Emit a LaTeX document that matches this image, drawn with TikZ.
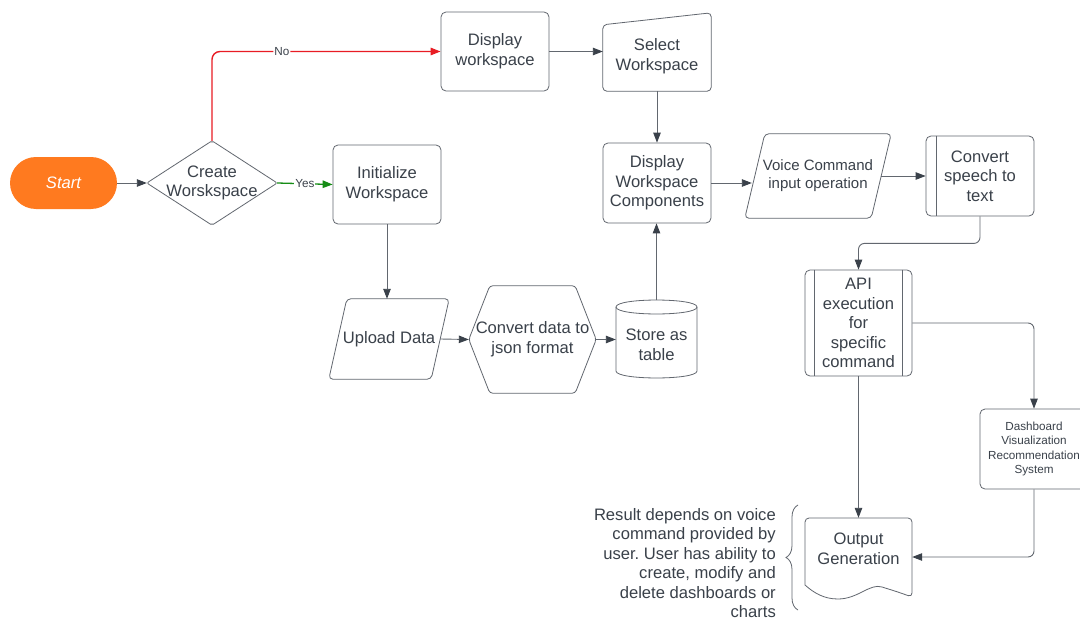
\documentclass[tikz,border=0pt]{standalone}
\usepackage{fontspec}
\setmainfont{Liberation Sans}
\usetikzlibrary{arrows.meta,calc,decorations.pathreplacing}
\definecolor{txt}{RGB}{58,65,74}
\definecolor{ln}{RGB}{98,103,111}
\definecolor{org}{RGB}{255,122,31}
\definecolor{rd}{RGB}{232,28,36}
\definecolor{gr}{RGB}{22,140,22}
\frenchspacing
\begin{document}
\begin{tikzpicture}[x=1pt,y=-1pt,
  every node/.style={text=txt, align=center, inner sep=0pt, font=\fontsize{16.6}{19.6}\selectfont},
  fmid/.style={font=\fontsize{15}{18}\selectfont},
  fsmall/.style={font=\fontsize{11.7}{14.5}\selectfont},
  area/.style={minimum width=#1},
  box/.style={draw=ln, line width=0.8pt, rounded corners=5pt, minimum width=108pt, minimum height=79pt},
  shp/.style={draw=ln, line width=0.8pt, rounded corners=4pt},
  arr/.style={draw=ln, line width=0.9pt, -{Triangle[length=10pt,width=7.5pt,color=txt]}},
  startbox/.style={fill=org, rounded corners=26pt, minimum width=107pt, minimum height=52pt, text=white, font=\fontsize{16.6}{19.6}\selectfont\itshape}
]
\fill[white] (0,0) rectangle (1080,621);
\useasboundingbox (0,0) rectangle (1080,621);

% nodes
\node[startbox] (start) at (63.5,183) {Start};
\node[area=130pt, minimum height=84pt] (dec) at (212,183) {Create\\Worskspace};
\draw[shp, rounded corners=2pt] (dec.north) -- (dec.east) -- (dec.south) -- (dec.west) -- cycle;

\node[box] (init) at (387,184.5) {Initialize\\Workspace};
\node[box] (disp) at (495,51.5) {Display\\workspace};

\node[area=108pt, minimum height=70pt] (sel) at (657,56) {Select\\Workspace};
\draw[shp] (sel.south west) -- ($(sel.north west)+(0,4)$) -- ($(sel.north east)+(0,-8)$) -- (sel.south east) -- cycle;

\node[box, minimum height=80pt] (comp) at (657,183) {Display\\Workspace\\Components};

\node[area=146pt, minimum height=84pt, fmid] (voice) at (818,176) {Voice Command\\input operation};
\draw[shp] (voice.south west) -- ($(voice.north west)+(20,0)$) -- (voice.north east) -- ($(voice.south east)+(-20,0)$) -- cycle;

\node[box, minimum height=80pt] (speech) at (980,176) {Convert\\speech to\\text};
\draw[draw=ln, line width=0.8pt] ($(speech.north west)+(11,0)$) -- ($(speech.south west)+(11,0)$);

\node[box, minimum width=107pt, minimum height=106pt] (api) at (858.5,323) {API\\execution\\for\\specific\\command};
\draw[draw=ln, line width=0.8pt] ($(api.north west)+(10,0)$) -- ($(api.south west)+(10,0)$);
\draw[draw=ln, line width=0.8pt] ($(api.north east)+(-10,0)$) -- ($(api.south east)+(-10,0)$);

\node[box, minimum height=80pt, fsmall] (dash) at (1034,449) {Dashboard\\Visualization\\Recommendation\\System};

\node[area=107pt, minimum height=62pt] (out) at (858.5,549) {Output\\Generation};
\draw[shp] (805,585) -- (805,518) -- (912,518) -- (912,597) [sharp corners]
  .. controls (898,592) .. (882,587)
  .. controls (870,583) and (858,599) .. (838,599)
  .. controls (824,599) and (814,593) .. (805,585) -- cycle;

\node[area=120pt, minimum height=80pt] (up) at (389,339) {Upload Data};
\draw[shp] (up.south west) -- ($(up.north west)+(18,0)$) -- (up.north east) -- ($(up.south east)+(-18,0)$) -- cycle;

\node[area=127pt, minimum height=107pt] (hex) at (532.5,339.5) {Convert data to\\json format};
\draw[shp, rounded corners=3pt] (hex.west) -- ($(hex.north west)+(21,0)$) -- ($(hex.north east)+(-21,0)$) -- (hex.east) -- ($(hex.south east)+(-21,0)$) -- ($(hex.south west)+(21,0)$) -- cycle;

\node[area=81pt, minimum height=90pt] (cyl) at (656.5,345) {Store as\\table};
\draw[draw=ln, line width=0.8pt] (616,307) .. controls (616,297.7) and (697,297.7) .. (697,307)
  .. controls (697,316.3) and (616,316.3) .. (616,307);
\draw[draw=ln, line width=0.8pt] (616,307) -- (616,371) .. controls (616,380.3) and (697,380.3) .. (697,371) -- (697,307);

\node[anchor=east, align=right, font=\fontsize{16.6}{19.4}\selectfont] (note) at (776,563) {Result depends on voice\\command provided by\\user. User has ability to\\create, modify and\\delete dashboards or\\charts};
\draw[draw=ln, line width=0.8pt, decorate, decoration={brace, amplitude=12pt}] (798,610) -- (798,505);

% connectors
\draw[arr] (start.east) -- (dec.west);
\draw[arr, draw=gr, line width=1.3pt, -{Triangle[length=10pt,width=7.5pt,color=gr]}] (dec.east) -- node[fill=white, fsmall, inner sep=1pt] {Yes} (init.west);
\draw[arr, draw=rd, line width=1.4pt, rounded corners=8pt, -{Triangle[length=10pt,width=7.5pt,color=rd]}] (dec.north) |- node[pos=0.653, fill=white, fsmall, inner sep=1pt] {No} (disp.west);
\draw[arr] (disp.east) -- (disp.east -| sel.west);
\draw[arr] (sel.south) -- (comp.north);
\draw[arr] (comp.east) -- ($(comp.east -| voice.west)+(7,0)$);
\draw[arr] ($(voice.east)+(-10,0)$) -- (speech.west);
\draw[arr, rounded corners=6pt] (speech.south) -- ++(0,27) -| (api.north);
\draw[arr, rounded corners=6pt] (api.east) -| (dash.north);
\draw[arr] (api.south) -- (out.north);
\draw[arr, rounded corners=6pt] (dash.south) |- ($(out.east)+(0,8)$);
\draw[arr] (init.south) -- (init.south |- up.north);
\draw[arr] ($(up.east)+(-9,0)$) -- (hex.west);
\draw[arr] (hex.east) -- (hex.east -| cyl.west);
\draw[arr] (cyl.north |- 0,300) -- (cyl.north |- comp.south);
\end{tikzpicture}
\end{document}
